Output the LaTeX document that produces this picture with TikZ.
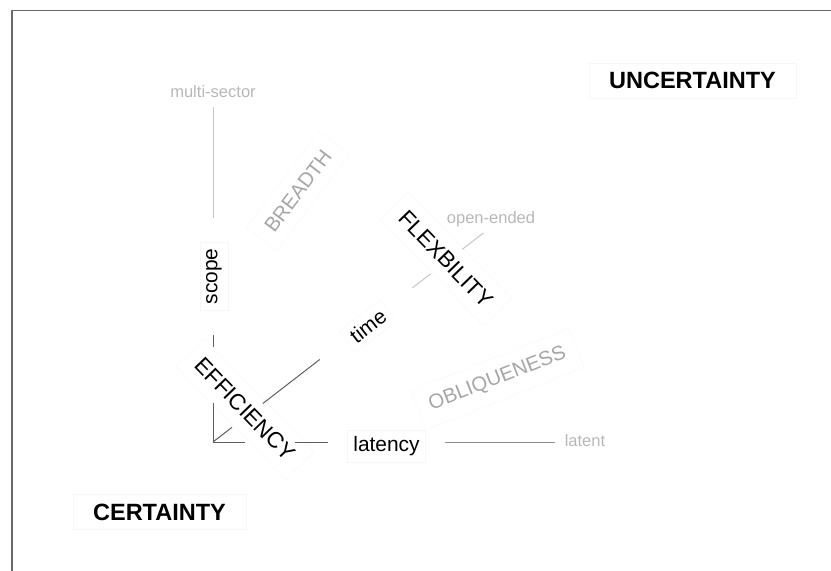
\documentclass[tikz,border=0pt]{standalone}
\usepackage{fontspec}
\setmainfont{Liberation Sans}
\usetikzlibrary{calc}
\definecolor{axisdark}{HTML}{5E5E5E}
\definecolor{axismid}{HTML}{8A8A8A}
\definecolor{axislight}{HTML}{C6C6C6}
\definecolor{softtext}{HTML}{A6A6A6}
\definecolor{endtext}{HTML}{B8B8B8}
\definecolor{framegray}{HTML}{6A6A6A}
\definecolor{boxline}{HTML}{F7F7F7}

\begin{document}
\begin{tikzpicture}[x=1bp,y=1bp,
  pole/.style={font=\fontsize{23.6}{28}\selectfont\bfseries, draw=boxline, inner xsep=20bp, inner ysep=9bp},
  axislabel/.style={font=\fontsize{21}{25}\selectfont, draw=boxline, inner sep=6bp},
  quality/.style={font=\fontsize{22.5}{27}\selectfont, draw=boxline, inner sep=12bp},
  softquality/.style={font=\fontsize{20.4}{24}\selectfont, text=softtext, draw=boxline, inner sep=12bp},
  endlabel/.style={font=\fontsize{16.6}{20}\selectfont, text=endtext, inner sep=0pt},
  dark/.style={draw=axisdark, line width=1bp},
  mid/.style={draw=axismid, line width=1bp},
  light/.style={draw=axislight, line width=1bp}
]
\useasboundingbox (0,-571) rectangle (831,0);

% page frame
\draw[framegray, line width=1.5bp] (12,-571) -- (12,-10.5) -- (831,-10.5);

% poles
\node[pole] (unc) at (692.5,-80.5) {UNCERTAINTY};
\node[pole] (cert) at (159.5,-512) {CERTAINTY};

% axis ends
\node[endlabel] (multi) at (213,-92) {multi-sector};
\node[endlabel] (open) at (491,-219.5) {open-ended};
\node[endlabel] (latent) at (585,-441) {latent};

% axis names
\node[axislabel, rotate=90] (scope) at (214,-276.5) {scope};
\node[axislabel, rotate=37.7] (time) at (368,-326) {time};
\node[axislabel] (lat) at (386.5,-446) {latency};

% qualities
\node[quality, rotate=-46] (eff) at (245,-409) {EFFICIENCY};
\node[quality, rotate=-46] (flex) at (446,-259) {FLEXBILITY};
\node[softquality, rotate=53] (breadth) at (298,-191) {BREADTH};
\node[softquality, rotate=21.5] (obl) at (497.5,-379) {OBLIQUENESS};

% origin and axis segments
\coordinate (O) at (213,-442);

\coordinate (v1) at (213,-403);
\coordinate (v2) at (213,-347);
\coordinate (v3) at (213,-335);
\coordinate (v4) at (213,-218);
\coordinate (v5) at (213,-107);
\draw[dark] (O) -- (v1);
\draw[dark] (v2) -- (v3);
\draw[light] (v4) -- (v5);

\coordinate (h1) at (245,-442);
\coordinate (h2) at (295,-442);
\coordinate (h3) at (328,-442);
\coordinate (h4) at (445,-442);
\coordinate (h5) at (555,-442);
\draw[dark] (O) -- (h1);
\draw[dark] (h2) -- (h3);
\draw[mid] (h4) -- (h5);

\coordinate (d1) at ($(O)+(37.7:24)$);
\coordinate (d2) at ($(O)+(37.7:63)$);
\coordinate (d3) at ($(O)+(37.7:135)$);
\coordinate (d4) at ($(O)+(37.7:252)$);
\coordinate (d5) at ($(O)+(37.7:275)$);
\coordinate (d6) at ($(O)+(37.7:315)$);
\coordinate (d7) at ($(O)+(37.7:342)$);
\draw[dark] (O) -- (d1);
\draw[dark] (d2) -- (d3);
\draw[light] (d4) -- (d5);
\draw[light] (d6) -- (d7);
\end{tikzpicture}
\end{document}
